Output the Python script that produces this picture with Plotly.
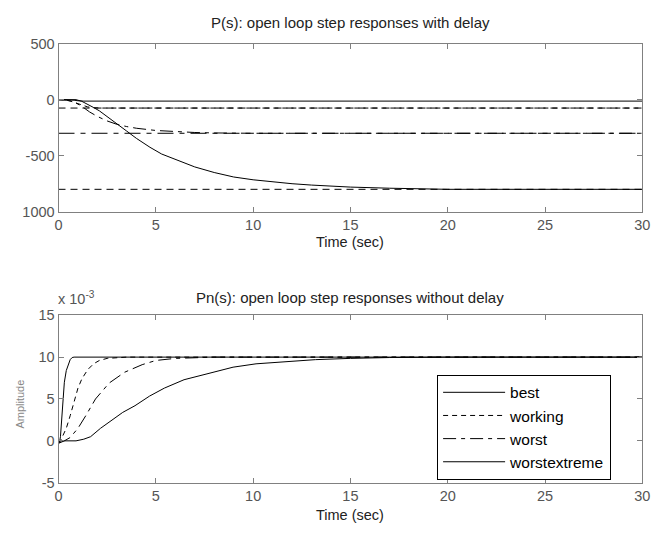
import plotly.graph_objects as go

W, H = 670, 537

# ---------------- data ----------------
# Top: P(s) open loop step responses with delay
t_best_d = [0, 0.5, 0.8, 1.0, 1.3, 30]
y_best_d = [0, -1, -5, -10, -13, -13]

t_work_d = [0, 0.3, 0.6, 0.9, 1.2, 1.5, 1.8, 2.2, 30]
y_work_d = [0, -2, -12, -30, -50, -65, -72, -75, -75]

t_worst_d = [0, 0.4, 0.8, 1.2, 1.6, 2.0, 2.5, 3.0, 3.5, 4.0, 5.0, 6.0, 7.0, 8.0, 10.0, 30]
y_worst_d = [0, -3, -20, -60, -110, -150, -190, -220, -240, -255, -275, -287, -293, -297, -300, -300]

t_wext_d = [0, 0.9, 1.2, 1.5, 1.8, 2.1, 2.5, 3.0, 3.5, 4.0, 4.7, 5.3, 6.0, 7.0, 8.0,
            9.0, 10.0, 11.0, 12.0, 13.0, 14.0, 15.0, 17.0, 19.0, 20.0, 30]
y_wext_d = [0, 0, -15, -40, -70, -100, -150, -210, -280, -345, -425, -485, -535, -600, -650,
            -690, -715, -735, -750, -762, -772, -780, -790, -797, -800, -800]

# steady-state reference levels drawn across the top plot
ref_levels = [-75, -300, -800]
ref_span = [0, 30]

# Bottom: Pn(s) open loop step responses without delay (values in 1e-3 units)
t_best_n = [0, 0.05, 0.1, 0.15, 0.2, 0.25, 0.3, 0.4, 0.5, 0.6, 0.7, 0.8, 30]
y_best_n = [-0.3, -0.2, 0.5, 2.0, 4.0, 5.8, 7.0, 8.4, 9.2, 9.7, 9.95, 10, 10]

t_work_n = [0, 0.1, 0.2, 0.4, 0.6, 0.8, 1.0, 1.2, 1.5, 1.8, 2.1, 2.5, 3.0, 3.5, 30]
y_work_n = [-0.3, 0, 0.5, 1.5, 3.0, 4.8, 6.3, 7.4, 8.5, 9.2, 9.6, 9.85, 9.95, 10, 10]

t_worst_n = [0, 0.3, 0.6, 1.0, 1.4, 1.9, 2.6, 3.4, 4.3, 5.0, 6.0, 7.0, 8.0, 30]
y_worst_n = [-0.3, 0, 0.4, 1.5, 3.0, 5.0, 6.9, 8.2, 9.1, 9.6, 9.85, 9.97, 10, 10]

t_wext_n = [0, 0.9, 1.3, 1.65, 2.16, 2.75, 3.3, 3.93, 4.68, 5.44, 6.45, 7.63, 8.97,
            10.15, 11.5, 13.2, 15, 17, 20, 30]
y_wext_n = [0, 0, 0.2, 0.5, 1.5, 2.5, 3.4, 4.2, 5.35, 6.3, 7.3, 8.0, 8.8,
            9.2, 9.4, 9.7, 9.85, 9.95, 10, 10]

names = ["best", "working", "worst", "worstextreme"]
dashes = ["solid", "5px,4px", "13px,5px,4px,5px", "solid"]
ref_dashes = ["7px,5px", "16px,6px,5px,6px", "7px,5px"]

x_ticks = [0, 5, 10, 15, 20, 25, 30]
top_yticks = [-1000, -500, 0, 500]
top_yticktext = ["1000", "-500", "0", "500"]
bot_yticks = [-5, 0, 5, 10, 15]
bot_yticktext = ["-5", "0", "5", "10", "15"]

# ---------------- figure ----------------
FONT = "Liberation Sans, Arial, sans-serif"
fig = go.Figure()

top_sets = [(t_best_d, y_best_d), (t_work_d, y_work_d), (t_worst_d, y_worst_d), (t_wext_d, y_wext_d)]
bot_sets = [(t_best_n, y_best_n), (t_work_n, y_work_n), (t_worst_n, y_worst_n), (t_wext_n, y_wext_n)]

for lvl, d in zip(ref_levels, ref_dashes):
    fig.add_trace(go.Scatter(x=ref_span, y=[lvl, lvl], mode="lines", showlegend=False,
                             line=dict(color="black", width=1, dash=d),
                             xaxis="x", yaxis="y", hoverinfo="skip"))

for (t, y), n, d in zip(top_sets, names, dashes):
    fig.add_trace(go.Scatter(x=t, y=y, mode="lines", name=n, showlegend=False,
                             line=dict(color="black", width=1, dash=d),
                             xaxis="x", yaxis="y"))

for (t, y), n, d in zip(bot_sets, names, dashes):
    fig.add_trace(go.Scatter(x=t, y=y, mode="lines", name=n, showlegend=True,
                             line=dict(color="black", width=1, dash=d),
                             xaxis="x2", yaxis="y2"))

def px_x(p):
    return p / W

def px_y(p):
    return 1 - p / H

xdom = [px_x(55.5), px_x(650)]
top_dom = [px_y(210), px_y(36.7)]
bot_dom = [px_y(489.3), px_y(316.7)]

axis_common = dict(showline=True, linecolor="#808080", linewidth=1, mirror="ticks",
                   ticks="inside", ticklen=5, tickcolor="#808080", showgrid=False,
                   zeroline=False, tickfont=dict(family=FONT, size=14.5, color="#555555"))

fig.update_layout(
    width=W, height=H,
    margin=dict(l=0, r=0, t=0, b=0),
    paper_bgcolor="white", plot_bgcolor="white",
    font=dict(family=FONT, size=14, color="black"),
    xaxis=dict(domain=xdom, range=[0, 30], tickvals=x_ticks, anchor="y", **axis_common),
    yaxis=dict(domain=top_dom, range=[-1000, 500], tickvals=top_yticks,
               ticktext=top_yticktext, anchor="x", **axis_common),
    xaxis2=dict(domain=xdom, range=[0, 30], tickvals=x_ticks, anchor="y2", **axis_common),
    yaxis2=dict(domain=bot_dom, range=[-5, 15], tickvals=bot_yticks,
                ticktext=bot_yticktext, anchor="x2", **axis_common),
    legend=dict(x=px_x(441), y=px_y(378), xanchor="left", yanchor="top",
                bgcolor="white", bordercolor="black", borderwidth=1,
                font=dict(family=FONT, size=15.5, color="black"),
                itemwidth=62, tracegroupgap=0),
    showlegend=True,
)

ann = [
    dict(text="P(s): open loop step responses with delay", x=px_x(352.75), y=px_y(15)),
    dict(text="Time (sec)", x=px_x(352.75), y=px_y(241)),
    dict(text="Pn(s): open loop step responses without delay", x=px_x(352.75), y=px_y(298)),
    dict(text="Time (sec)", x=px_x(352.75), y=px_y(523)),
]
annotations = []
for i, a in enumerate(ann):
    size = 15 if i in (0, 2) else 14.5
    annotations.append(dict(xref="paper", yref="paper", showarrow=False,
                            xanchor="center", yanchor="middle",
                            font=dict(family=FONT, size=size, color="#222222"), **a))
annotations.append(dict(xref="paper", yref="paper", showarrow=False, xanchor="left",
                        yanchor="middle", x=px_x(53), y=px_y(299),
                        text="x 10<sup>-3</sup>",
                        font=dict(family=FONT, size=14.5, color="#555555")))
annotations.append(dict(xref="paper", yref="paper", showarrow=False, xanchor="center",
                        yanchor="middle", x=px_x(16), y=px_y(408), textangle=-90,
                        text="Amplitude",
                        font=dict(family=FONT, size=11, color="#888888")))
fig.update_layout(annotations=annotations)

fig.write_html("out.html")
